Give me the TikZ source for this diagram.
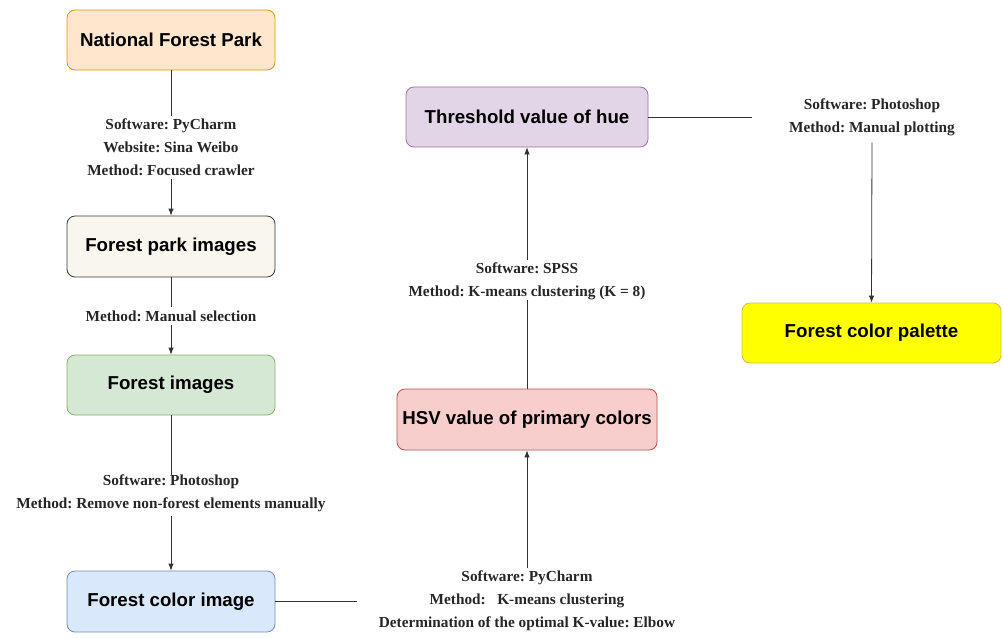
\documentclass[tikz,border=0pt]{standalone}
\usepackage{fontspec}
\setmainfont{Liberation Serif}
\newfontfamily\boxfont{Liberation Sans}
\usetikzlibrary{arrows.meta}
\definecolor{orF}{HTML}{FFE6CC}\definecolor{orD}{HTML}{D79B00}
\definecolor{grF}{HTML}{F9F7ED}\definecolor{grD}{HTML}{36393D}
\definecolor{gnF}{HTML}{D5E8D4}\definecolor{gnD}{HTML}{82B366}
\definecolor{blF}{HTML}{DAE8FC}\definecolor{blD}{HTML}{6C8EBF}
\definecolor{rdF}{HTML}{F8CECC}\definecolor{rdD}{HTML}{B85450}
\definecolor{puF}{HTML}{E1D5E7}\definecolor{puD}{HTML}{9673A6}
\definecolor{yeF}{HTML}{FFFF00}\definecolor{yeD}{HTML}{D6B656}
\tikzset{
  procbox/.style={draw, rounded corners=8pt, line width=0.8pt, inner sep=0pt,
    font=\boxfont\bfseries\fontsize{18.7}{22}\selectfont, text=black},
  steplabel/.style={align=center, inner sep=3pt,
    font=\frenchspacing\bfseries\fontsize{15.3}{23}\selectfont, text=black!85},
  conn/.style={line width=0.8pt, draw=black!80},
  arr/.style={conn, -{Latex[length=7pt,width=5.5pt]}},
}
\begin{document}
\begin{tikzpicture}[x=1pt,y=-1pt]
\useasboundingbox (0,0) rectangle (1003,637);
% boxes
\node[procbox, fill=orF, draw=orD, minimum width=208pt, minimum height=60pt] (b1) at (171,40) {National Forest Park};
\node[procbox, fill=grF, draw=grD, minimum width=208pt, minimum height=61pt] (b2) at (171,246.5) {Forest park images};
\node[procbox, fill=gnF, draw=gnD, minimum width=208pt, minimum height=60pt] (b3) at (171,385) {Forest images};
\node[procbox, fill=blF, draw=blD, minimum width=208pt, minimum height=61pt] (b4) at (171,601.5) {Forest color image};
\node[procbox, fill=rdF, draw=rdD, minimum width=260pt, minimum height=61pt] (b5) at (527,419.5) {HSV value of primary colors};
\node[procbox, fill=puF, draw=puD, minimum width=242pt, minimum height=60pt] (b6) at (527,117) {Threshold value of hue};
\node[procbox, fill=yeF, draw=yeD, minimum width=259pt, minimum height=60pt] (b7) at (871.5,333) {Forest color palette};
% labels
\node[steplabel] (l1) at (171,147.5) {Software: PyCharm\\Website: Sina Weibo\\Method: Focused crawler};
\node[steplabel] (l2) at (171,316) {Method: Manual selection};
\node[steplabel] (l3) at (171,493.5) {Software: Photoshop\\Method: Remove non-forest elements manually};
\node[steplabel] (l4) at (527,601) {Software: PyCharm\\Method:\hspace{0.5em} K-means clustering\\Determination of the optimal K-value: Elbow};
\node[steplabel] (l5) at (527,281.5) {Software: SPSS\\Method: K-means clustering (K = 8)};
\node[steplabel] (l6) at (872,117.5) {Software: Photoshop\\Method: Manual plotting};
% connectors
\draw[conn] (b1.south) -- (l1.north);
\draw[arr] (l1.south) -- (b2.north);
\draw[conn] (b2.south) -- (l2.north);
\draw[arr] (l2.south) -- (b3.north);
\draw[conn] (b3.south) -- ([yshift=-3pt]l3.north);
\draw[arr] ([yshift=-1pt]l3.south) -- (b4.north);
\draw[conn, shorten >=19pt] (b4.east) -- (l4.west |- b4.east);
\draw[arr] (l4.north) -- (b5.south);
\draw[conn] (b5.north) -- ([yshift=3pt]l5.south);
\draw[arr] (l5.north) -- (b6.south);
\draw[conn, shorten >=34pt] (b6.east) -- (l6.west |- b6.east);
\draw[arr] ([yshift=-3pt]l6.south) -- (b7.north);
\end{tikzpicture}
\end{document}
